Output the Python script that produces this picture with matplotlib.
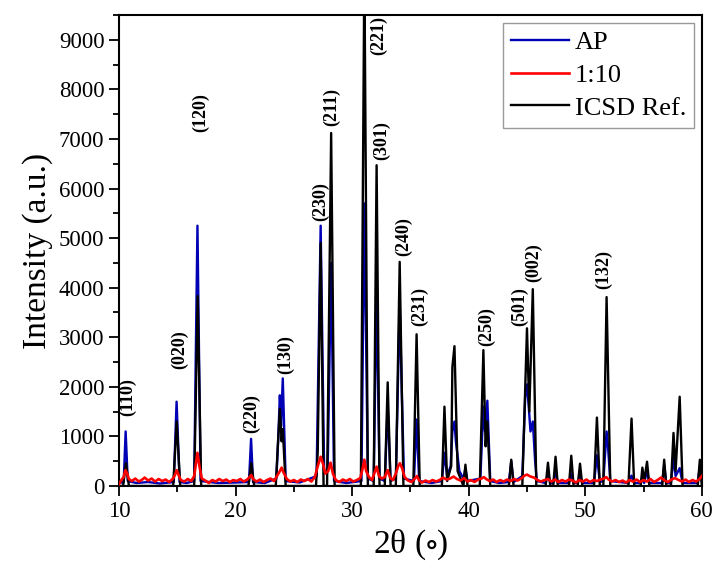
import matplotlib
matplotlib.use("Agg")
import matplotlib.pyplot as plt
from matplotlib.ticker import MultipleLocator

plt.rcParams['font.family'] = ['Liberation Serif', 'DejaVu Serif']
plt.rcParams['mathtext.fontset'] = 'stix'

# ICSD reference pattern (2theta, intensity)
icsd_pts = [
    (10.0, 0), (10.35, 0), (10.6, 460), (10.85, 0),
    (14.65, 0), (14.95, 1300), (15.25, 0),
    (16.45, 0), (16.75, 3830), (17.05, 0),
    (21.1, 0), (21.35, 460), (21.6, 0),
    (23.45, 0), (23.6, 700), (23.8, 1550), (23.95, 900), (24.05, 1150), (24.3, 0),
    (26.9, 0), (27.05, 700), (27.3, 4900), (27.55, 0),
    (27.85, 0), (28.2, 7120), (28.5, 0),
    (30.75, 0), (31.05, 10500), (31.35, 0),
    (31.85, 0), (32.1, 6470), (32.35, 0),
    (32.8, 0), (33.05, 2090), (33.3, 0),
    (33.75, 0), (34.08, 4520), (34.4, 0),
    (35.25, 0), (35.53, 3060), (35.8, 0),
    (37.7, 0), (37.92, 1600), (38.15, 100),
    (38.5, 400), (38.6, 2400), (38.78, 2820), (39.05, 300),
    (39.55, 0), (39.72, 430), (39.9, 0),
    (40.95, 0), (41.26, 2740), (41.45, 800), (41.6, 1300), (41.85, 0),
    (43.45, 0), (43.65, 530), (43.85, 0),
    (44.6, 0), (45.0, 3180), (45.2, 1500), (45.5, 3970), (45.8, 0),
    (46.6, 0), (46.8, 470), (47.0, 0),
    (47.25, 0), (47.45, 590), (47.65, 0),
    (48.6, 0), (48.8, 610), (49.0, 0),
    (49.35, 0), (49.55, 450), (49.75, 0),
    (50.75, 0), (51.0, 1380), (51.25, 0),
    (51.55, 0), (51.83, 3810), (52.15, 0),
    (53.7, 0), (53.97, 1360), (54.2, 0),
    (54.75, 0), (54.9, 370), (55.05, 100), (55.3, 490), (55.5, 0),
    (56.6, 0), (56.77, 530), (56.95, 0),
    (57.35, 0), (57.57, 1070), (57.75, 300), (58.1, 1800), (58.35, 0),
    (59.65, 0), (59.83, 530), (60.0, 0),
]

# AP sample pattern
ap_pts = [
    (10.0, 60), (10.4, 80), (10.57, 1100), (10.75, 100), (11.5, 60), (12.5, 80), (13.5, 50),
    (14.7, 80), (14.94, 1700), (15.2, 80), (15.8, 60),
    (16.45, 100), (16.73, 5250), (17.0, 100), (18.5, 60), (20.0, 70),
    (21.15, 80), (21.33, 950), (21.5, 80), (22.5, 60),
    (23.5, 150), (23.65, 900), (23.8, 1830), (23.9, 1200), (24.05, 2170), (24.3, 100), (25.5, 70),
    (26.95, 200), (27.3, 5250), (27.6, 300),
    (27.9, 300), (28.2, 4500), (28.45, 100), (29.5, 60),
    (30.8, 100), (31.05, 5700), (31.35, 150),
    (31.85, 100), (32.1, 4000), (32.35, 150),
    (32.8, 100), (33.05, 1600), (33.3, 100),
    (33.75, 150), (34.08, 3700), (34.25, 2000), (34.45, 150),
    (35.3, 100), (35.53, 1340), (35.75, 100), (36.8, 60),
    (37.7, 100), (37.92, 670), (38.15, 200),
    (38.45, 400), (38.6, 1100), (38.78, 1300), (38.9, 900), (39.05, 600), (39.2, 300),
    (39.55, 150), (39.72, 350), (39.9, 100),
    (41.0, 150), (41.26, 1600), (41.4, 1100), (41.6, 1720), (41.85, 100), (42.6, 60),
    (43.45, 80), (43.65, 500), (43.85, 80),
    (44.6, 200), (44.85, 1800), (45.0, 2050), (45.15, 1600), (45.3, 1100), (45.5, 1300),
    (45.7, 500), (45.85, 100),
    (46.6, 60), (46.8, 250), (47.0, 60), (47.25, 60), (47.45, 300), (47.65, 60),
    (48.6, 60), (48.8, 250), (49.0, 60), (49.35, 60), (49.55, 200), (49.75, 60),
    (50.75, 60), (51.0, 620), (51.25, 80),
    (51.55, 100), (51.83, 1100), (51.95, 800), (52.15, 100),
    (53.7, 60), (53.97, 210), (54.2, 60),
    (54.75, 60), (54.9, 150), (55.05, 60), (55.3, 300), (55.5, 60),
    (56.6, 60), (56.77, 430), (56.95, 60),
    (57.35, 60), (57.57, 570), (57.75, 200), (58.1, 360), (58.35, 60),
    (59.65, 60), (59.83, 400), (60.0, 100),
]

# 1:10 sample pattern
r110_pts = [
    (10.0, 40), (10.2, 120), (10.4, 180), (10.55, 320), (10.7, 250), (10.85, 140), (11.1, 100),
    (11.4, 150), (11.7, 90), (12.0, 130), (12.2, 170), (12.5, 110), (12.8, 150), (13.1, 90),
    (13.4, 140), (13.7, 100), (14.0, 130), (14.3, 80), (14.6, 140), (14.8, 220), (14.95, 320),
    (15.1, 230), (15.3, 120), (15.6, 90), (15.9, 140), (16.2, 100), (16.45, 200), (16.6, 450),
    (16.73, 670), (16.9, 400), (17.1, 150), (17.4, 110), (17.7, 60), (18.0, 120), (18.3, 90),
    (18.6, 140), (18.9, 100), (19.2, 130), (19.5, 80), (19.8, 120), (20.1, 100), (20.4, 140),
    (20.7, 90), (21.0, 130), (21.2, 180), (21.35, 220), (21.5, 140), (21.8, 90), (22.1, 130),
    (22.4, 80), (22.7, 120), (23.0, 150), (23.3, 100), (23.55, 200), (23.8, 300), (23.95, 370),
    (24.1, 280), (24.4, 140), (24.7, 90), (25.0, 120), (25.3, 80), (25.6, 130), (25.9, 100),
    (26.2, 140), (26.5, 90), (26.8, 180), (27.05, 400), (27.3, 590), (27.5, 450), (27.7, 250),
    (27.95, 300), (28.15, 470), (28.35, 250), (28.6, 120), (28.9, 80), (29.2, 130), (29.5, 100),
    (29.8, 140), (30.1, 90), (30.4, 120), (30.7, 160), (30.9, 350), (31.05, 530), (31.2, 300),
    (31.45, 180), (31.7, 120), (31.9, 250), (32.1, 390), (32.3, 200), (32.55, 150), (32.8, 180),
    (33.05, 320), (33.25, 170), (33.5, 120), (33.75, 250), (33.95, 400), (34.1, 460), (34.3, 350),
    (34.5, 180), (34.8, 110), (35.1, 80), (35.35, 140), (35.55, 200), (35.75, 110), (36.0, 70),
    (36.3, 110), (36.6, 80), (36.9, 120), (37.2, 90), (37.5, 120), (37.8, 170), (38.1, 130),
    (38.4, 150), (38.7, 190), (39.0, 140), (39.3, 110), (39.6, 160), (39.9, 90), (40.2, 120),
    (40.5, 80), (40.8, 130), (41.1, 150), (41.3, 180), (41.5, 140), (41.8, 100), (42.1, 130),
    (42.4, 80), (42.7, 120), (43.0, 90), (43.3, 130), (43.6, 100), (43.9, 140), (44.2, 110),
    (44.5, 150), (44.8, 210), (45.0, 230), (45.3, 190), (45.6, 170), (45.9, 120), (46.2, 90),
    (46.5, 120), (46.8, 140), (47.1, 90), (47.4, 130), (47.7, 80), (48.0, 120), (48.3, 90),
    (48.6, 130), (48.9, 110), (49.2, 70), (49.5, 120), (49.8, 90), (50.1, 130), (50.4, 80),
    (50.7, 120), (51.0, 100), (51.3, 130), (51.6, 150), (51.8, 180), (52.0, 130), (52.3, 90),
    (52.6, 120), (52.9, 80), (53.2, 110), (53.5, 70), (53.8, 120), (54.1, 90), (54.4, 130),
    (54.7, 80), (55.0, 120), (55.3, 90), (55.6, 140), (55.9, 80), (56.2, 120), (56.5, 170),
    (56.8, 110), (57.1, 80), (57.4, 130), (57.7, 160), (58.0, 120), (58.3, 90), (58.6, 130),
    (58.9, 80), (59.2, 120), (59.5, 90), (59.8, 140), (60.0, 200),
]

# Miller index labels: text, 2theta, intensity of label bottom
hkl_labels = ["(110)", "(020)", "(120)", "(220)", "(130)", "(230)", "(211)", "(221)",
              "(301)", "(240)", "(231)", "(250)", "(501)", "(002)", "(132)"]
hkl_x = [10.7, 15.2, 17.0, 21.4, 24.3, 27.3, 28.2, 32.3, 32.55, 34.4, 35.8, 41.5, 44.4, 45.6, 51.6]
hkl_y = [1420, 2350, 7140, 1075, 2250, 5350, 7260, 8700, 6570, 4640, 3220, 2820, 3220, 4120, 3970]

fig = plt.figure(figsize=(7.16, 5.68), dpi=100)
ax = fig.add_axes([0.1662, 0.1444, 0.814, 0.8292])

ax.plot([p[0] for p in ap_pts], [p[1] for p in ap_pts], color='#0000b4', lw=1.7, label='AP', zorder=2)
ax.plot([p[0] for p in r110_pts], [p[1] for p in r110_pts], color='#ff0000', lw=1.9, label='1:10', zorder=4)
ax.plot([p[0] for p in icsd_pts], [p[1] for p in icsd_pts], color='black', lw=1.7, label='ICSD Ref.', zorder=3)

for t, x, y in zip(hkl_labels, hkl_x, hkl_y):
    ax.text(x, y, t, rotation=90, ha='center', va='bottom', fontsize=13, fontweight='bold')

ax.set_xlim(10, 60)
ax.set_ylim(0, 9500)
ax.xaxis.set_major_locator(MultipleLocator(10))
ax.xaxis.set_minor_locator(MultipleLocator(5))
ax.yaxis.set_major_locator(MultipleLocator(1000))
ax.yaxis.set_minor_locator(MultipleLocator(500))
ax.tick_params(which='major', direction='out', length=7, width=1.3, labelsize=16.5)
ax.tick_params(which='minor', direction='out', length=4, width=1.3)
for s in ax.spines.values():
    s.set_linewidth(1.5)

ax.set_xlabel('2θ ($\\circ$)', fontsize=24)
ax.set_ylabel('Intensity (a.u.)', fontsize=24)

leg = ax.legend(loc='upper right', fontsize=19, frameon=True, fancybox=False, handlelength=2.2,
                handletextpad=0.2, borderpad=0.3, labelspacing=0.35, borderaxespad=0.3)
leg.get_frame().set_edgecolor('#808080')
leg.get_frame().set_linewidth(1.0)

fig.savefig('out.png', dpi=100)
